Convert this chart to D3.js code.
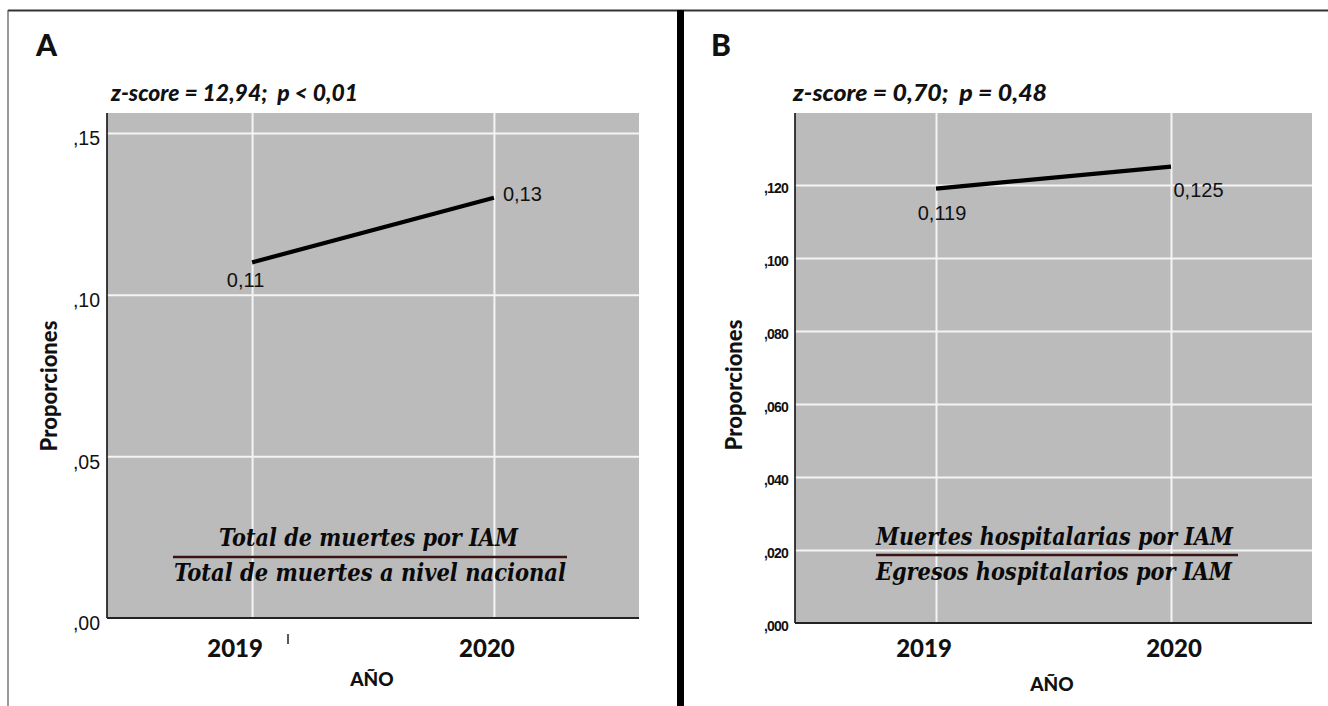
<!DOCTYPE html>
<html>
<head>
<meta charset="utf-8">
<script src="https://cdn.jsdelivr.net/npm/d3@7"></script>
<style>
  html, body { margin: 0; padding: 0; background: #ffffff; }
  svg { display: block; }
  text { white-space: pre; }
</style>
</head>
<body>
<svg id="chart" width="1328" height="706"></svg>
<script>
// ---------------- DATA ----------------
const years = ["2019", "2020"];

const valuesA = [0.11, 0.13];
const pointLabelsA = ["0,11", "0,13"];
const ticksA = [0, 0.05, 0.10, 0.15];
const tickLabelsA = [",00", ",05", ",10", ",15"];
const titleA = "A";
const statA = "z-score = 12,94;  p < 0,01";
const numeratorA = "Total de muertes por IAM";
const denominatorA = "Total de muertes a nivel nacional";

const valuesB = [0.119, 0.125];
const pointLabelsB = ["0,119", "0,125"];
const ticksB = [0, 0.02, 0.04, 0.06, 0.08, 0.10, 0.12];
const tickLabelsB = [",000", ",020", ",040", ",060", ",080", ",100", ",120"];
const titleB = "B";
const statB = "z-score = 0,70;  p = 0,48";
const numeratorB = "Muertes hospitalarias por IAM";
const denominatorB = "Egresos hospitalarios por IAM";

const yAxisTitle = "Proporciones";
const xAxisTitle = "AÑO";

// ---------------- LAYOUT ----------------
const svg = d3.select("#chart");
const BOLD_SANS = "Lato, 'Open Sans', sans-serif";
const HEAVY = 900;
const ARIAL = "'Liberation Sans', Arial, sans-serif";
const SERIF = "'DejaVu Serif', serif";

// frame lines
svg.append("line").attr("x1", 8).attr("x2", 1328).attr("y1", 10.5).attr("y2", 10.5)
  .attr("stroke", "#333").attr("stroke-width", 2);
svg.append("line").attr("x1", 8).attr("x2", 8).attr("y1", 10).attr("y2", 706)
  .attr("stroke", "#555").attr("stroke-width", 1.2);
svg.append("rect").attr("x", 677).attr("y", 10).attr("width", 7).attr("height", 696)
  .attr("fill", "#000");

const panels = [
  {
    title: titleA, titleX: 36, stat: statA, statX: 111, statLen: 247,
    values: valuesA, labels: pointLabelsA, ticks: ticksA, tickLabels: tickLabelsA,
    left: 107, right: 639, top: 113, bottom: 618, yMax: 0.1562,
    tickFont: "19.5px", tickWeight: "normal", tickSpacing: 0, tickDy: "0.6em",
    yTitleX: 57, yTitleY: 386,
    yearOffsets: [-17, -7], yearBaseline: 657,
    xTitleX: 372, xTitleY: 686,
    labelPos: [{dx: -6.5, dy: 25, anchor: "middle"}, {dx: 9, dy: 3, anchor: "start"}],
    num: numeratorA, numX: 368.5, numY: 546, numLen: 299,
    den: denominatorA, denX: 370, denY: 581, denLen: 392,
    fracY: 557, fracX1: 173, fracX2: 567,
    stray: true
  },
  {
    title: titleB, titleX: 711, stat: statB, statX: 793, statLen: 254,
    values: valuesB, labels: pointLabelsB, ticks: ticksB, tickLabels: tickLabelsB,
    left: 795, right: 1312, top: 113, bottom: 623, yMax: 0.1397,
    tickFont: "14px", tickWeight: "bold", tickSpacing: -0.8, tickDy: "0.55em",
    yTitleX: 742, yTitleY: 385,
    yearOffsets: [-12, 3], yearBaseline: 657,
    xTitleX: 1052, xTitleY: 691,
    labelPos: [{dx: 6, dy: 31, anchor: "middle"}, {dx: 2.5, dy: 30, anchor: "start"}],
    num: numeratorB, numX: 1054.5, numY: 545, numLen: 357,
    den: denominatorB, denX: 1054, denY: 580, denLen: 356,
    fracY: 555, fracX1: 876, fracX2: 1238,
    stray: false
  }
];

panels.forEach(p => {
  const g = svg.append("g");
  const x = d3.scalePoint().domain(years).range([p.left, p.right]).padding(0.6);
  const y = d3.scaleLinear().domain([0, p.yMax]).range([p.bottom, p.top]);

  // title & stat
  g.append("text").attr("x", p.titleX).attr("y", 56)
    .attr("font-family", BOLD_SANS).attr("font-weight", HEAVY).attr("font-size", 30)
    .attr("fill", "#111").text(p.title);
  g.append("text").attr("x", p.statX).attr("y", 101)
    .attr("font-family", BOLD_SANS).attr("font-weight", HEAVY).attr("font-style", "italic")
    .attr("font-size", 22).attr("fill", "#111")
    .attr("textLength", p.statLen).attr("lengthAdjust", "spacingAndGlyphs")
    .text(p.stat);

  // plot background
  g.append("rect").attr("x", p.left).attr("y", p.top)
    .attr("width", p.right - p.left).attr("height", p.bottom - p.top)
    .attr("fill", "#bbbbbb");

  // horizontal gridlines
  g.append("g").attr("transform", `translate(${p.left},0)`)
    .call(d3.axisLeft(y).tickValues(p.ticks.filter(t => t > 0)).tickSize(-(p.right - p.left)).tickFormat(""))
    .call(s => s.select(".domain").remove())
    .call(s => s.selectAll("line").attr("stroke", "#f4f4f4").attr("stroke-width", 2));

  // vertical gridlines
  g.append("g").attr("transform", `translate(0,${p.bottom})`)
    .call(d3.axisBottom(x).tickSize(-(p.bottom - p.top)).tickFormat(""))
    .call(s => s.select(".domain").remove())
    .call(s => s.selectAll("line").attr("stroke", "#f4f4f4").attr("stroke-width", 2));

  // y axis tick labels
  const yAxis = g.append("g").attr("transform", `translate(${p.left},0)`)
    .call(d3.axisLeft(y).tickValues(p.ticks).tickSize(0).tickPadding(7)
      .tickFormat((d, i) => p.tickLabels[i]));
  yAxis.select(".domain").remove();
  yAxis.selectAll("text")
    .attr("font-family", ARIAL).attr("font-size", p.tickFont)
    .attr("font-weight", p.tickWeight).attr("letter-spacing", p.tickSpacing)
    .attr("fill", "#111").attr("dy", p.tickDy);

  // axis lines
  g.append("line").attr("x1", p.left).attr("x2", p.left).attr("y1", p.top).attr("y2", p.bottom)
    .attr("stroke", "#111").attr("stroke-width", 1.6);
  g.append("line").attr("x1", p.left).attr("x2", p.right).attr("y1", p.bottom).attr("y2", p.bottom)
    .attr("stroke", "#222").attr("stroke-width", 2.2);

  // year labels
  g.selectAll(".year").data(years).enter().append("text")
    .attr("x", (d, i) => x(d) + p.yearOffsets[i]).attr("y", p.yearBaseline)
    .attr("text-anchor", "middle")
    .attr("font-family", BOLD_SANS).attr("font-weight", HEAVY).attr("font-size", 24)
    .attr("fill", "#111").text(d => d);

  g.append("text").attr("x", p.xTitleX).attr("y", p.xTitleY).attr("text-anchor", "middle")
    .attr("font-family", BOLD_SANS).attr("font-weight", HEAVY).attr("font-size", 19)
    .attr("fill", "#111").text(xAxisTitle);

  g.append("text").attr("transform", `translate(${p.yTitleX},${p.yTitleY}) rotate(-90)`)
    .attr("text-anchor", "middle")
    .attr("font-family", BOLD_SANS).attr("font-weight", HEAVY).attr("font-size", 22)
    .attr("fill", "#111").text(yAxisTitle);

  // data line
  const line = d3.line().x((d, i) => x(years[i])).y(d => y(d));
  g.append("path").datum(p.values).attr("d", line)
    .attr("fill", "none").attr("stroke", "#000").attr("stroke-width", 4.2);

  // point labels
  g.selectAll(".plabel").data(p.values).enter().append("text")
    .attr("x", (d, i) => x(years[i]) + p.labelPos[i].dx)
    .attr("y", (d, i) => y(d) + p.labelPos[i].dy)
    .attr("text-anchor", (d, i) => p.labelPos[i].anchor)
    .attr("font-family", ARIAL).attr("font-size", 20).attr("fill", "#111")
    .text((d, i) => p.labels[i]);

  // fraction annotation
  g.append("text").attr("x", p.numX).attr("y", p.numY).attr("text-anchor", "middle")
    .attr("font-family", SERIF).attr("font-style", "italic").attr("font-weight", "bold")
    .attr("font-size", 25).attr("fill", "#0a0a0a")
    .attr("textLength", p.numLen).attr("lengthAdjust", "spacingAndGlyphs").text(p.num);
  g.append("line").attr("x1", p.fracX1).attr("x2", p.fracX2).attr("y1", p.fracY).attr("y2", p.fracY)
    .attr("stroke", "#3a1414").attr("stroke-width", 2.6);
  g.append("text").attr("x", p.denX).attr("y", p.denY).attr("text-anchor", "middle")
    .attr("font-family", SERIF).attr("font-style", "italic").attr("font-weight", "bold")
    .attr("font-size", 25).attr("fill", "#0a0a0a")
    .attr("textLength", p.denLen).attr("lengthAdjust", "spacingAndGlyphs").text(p.den);

  if (p.stray) {
    g.append("line").attr("x1", 288).attr("x2", 288).attr("y1", 634).attr("y2", 644)
      .attr("stroke", "#222").attr("stroke-width", 1.5);
  }
});
</script>
</body>
</html>
